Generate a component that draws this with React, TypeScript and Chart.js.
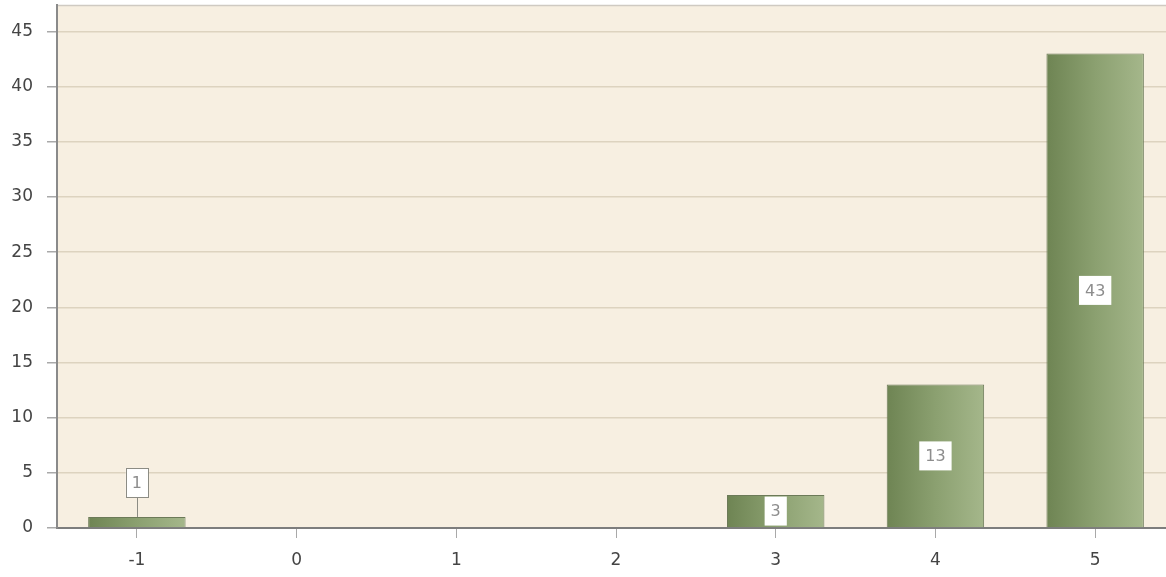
import React, { useEffect, useRef } from "react";
import { Chart, registerables } from "chart.js";

Chart.register(...registerables);

const categories = ["-1", "0", "1", "2", "3", "4", "5"];
const counts = [1, 0, 0, 0, 3, 13, 43];
const yTicks = [0, 5, 10, 15, 20, 25, 30, 35, 40, 45];

const W = 1175;
const H = 577;

const plotBg = {
  id: "plotBg",
  beforeDraw(chart: any) {
    const { ctx, chartArea: a } = chart;
    ctx.save();
    ctx.fillStyle = "#f7efe1";
    ctx.fillRect(a.left, a.top, a.right - a.left, a.bottom - a.top);
    ctx.strokeStyle = "#cfcac2";
    ctx.lineWidth = 1.5;
    ctx.beginPath();
    ctx.moveTo(a.left, a.top + 0.5);
    ctx.lineTo(a.right, a.top + 0.5);
    ctx.stroke();
    ctx.restore();
  },
};

const valueLabels = {
  id: "valueLabels",
  afterDatasetsDraw(chart: any) {
    const { ctx } = chart;
    const meta = chart.getDatasetMeta(0);
    ctx.save();
    ctx.font = "16px 'DejaVu Sans', Tahoma, sans-serif";
    ctx.textAlign = "center";
    ctx.textBaseline = "middle";
    meta.data.forEach((bar: any, i: number) => {
      const v = counts[i];
      if (!v) return;
      const text = String(v);
      const tw = ctx.measureText(text).width;
      const bw = tw + 12;
      const bh = 29;
      const h = bar.base - bar.y;
      let cy = (bar.y + bar.base) / 2;
      let leader = false;
      if (h < bh) {
        cy = bar.y - 20 - bh / 2;
        leader = true;
      }
      const x = bar.x;
      if (leader) {
        ctx.strokeStyle = "#8c8c84";
        ctx.lineWidth = 1;
        ctx.beginPath();
        ctx.moveTo(Math.round(x) + 0.5, cy + bh / 2);
        ctx.lineTo(Math.round(x) + 0.5, bar.y);
        ctx.stroke();
      }
      ctx.fillStyle = "#ffffff";
      ctx.fillRect(x - bw / 2, cy - bh / 2, bw, bh);
      if (leader) {
        ctx.strokeStyle = "#8c8c84";
        ctx.lineWidth = 1;
        ctx.strokeRect(Math.round(x - bw / 2) + 0.5, Math.round(cy - bh / 2) + 0.5, Math.round(bw), Math.round(bh));
      }
      ctx.fillStyle = "#8d8d8d";
      ctx.fillText(text, x, cy + 1);
    });
    ctx.restore();
  },
};

export default function App() {
  const ref = useRef<HTMLCanvasElement | null>(null);
  useEffect(() => {
    document.body.style.overflow = "hidden";
    const canvas = ref.current!;
    const chart = new Chart(canvas, {
      type: "bar",
      data: {
        labels: categories,
        datasets: [
          {
            data: counts,
            backgroundColor: (c: any) => {
              const ch = c.chart;
              const xs = ch.scales?.x;
              if (!xs || c.dataIndex === undefined) return "#8a9e6e";
              const cx = xs.getPixelForValue(c.dataIndex);
              if (!Number.isFinite(cx)) return "#8a9e6e";
              const g = ch.ctx.createLinearGradient(cx - 49, 0, cx + 49, 0);
              g.addColorStop(0, "#6e8453");
              g.addColorStop(0.5, "#8ba070");
              g.addColorStop(1, "#a5b78b");
              return g;
            },
            borderColor: "#6c7a58",
            borderWidth: 1,
            barPercentage: 0.61,
            categoryPercentage: 1,
          },
        ],
      },
      options: {
        responsive: false,
        animation: false,
        layout: { padding: { top: 5, right: 0, left: 0, bottom: 0 } },
        plugins: { legend: { display: false }, tooltip: { enabled: false } },
        scales: {
          x: {
            offset: true,
            grid: {
              drawOnChartArea: false,
              drawTicks: true,
              tickLength: 10,
              tickColor: "#a9a9a9",
              offset: false,
            },
            border: { color: "#7d7d7d", width: 2 },
            ticks: {
              color: "#444",
              font: { family: "'DejaVu Sans', Tahoma, sans-serif", size: 17 },
              padding: 12,
            },
            afterFit: (s: any) => {
              s.height = 49;
              s.paddingLeft = 0;
              s.paddingRight = 0;
            },
          },
          y: {
            min: 0,
            max: 47.4,
            afterBuildTicks: (s: any) => {
              s.ticks = yTicks.map((v) => ({ value: v }));
            },
            grid: {
              color: "#ddd3bf",
              tickColor: "#a9a9a9",
              tickLength: 10,
              lineWidth: 1.5,
            },
            border: { color: "#8a8a8a", width: 2 },
            ticks: {
              color: "#444",
              font: { family: "'DejaVu Sans', Tahoma, sans-serif", size: 17 },
              padding: 14,
            },
            afterFit: (s: any) => {
              s.width = 57;
              s.paddingTop = 0;
              s.paddingBottom = 0;
            },
          },
        },
      },
      plugins: [plotBg, valueLabels],
    });
    return () => chart.destroy();
  }, []);
  return (
    <div style={{ position: "fixed", left: 0, top: 0, width: 1166, height: H, overflow: "hidden", background: "#fff" }}>
      <canvas ref={ref} width={W} height={H} style={{ width: W, height: H, display: "block" }} />
    </div>
  );
}
